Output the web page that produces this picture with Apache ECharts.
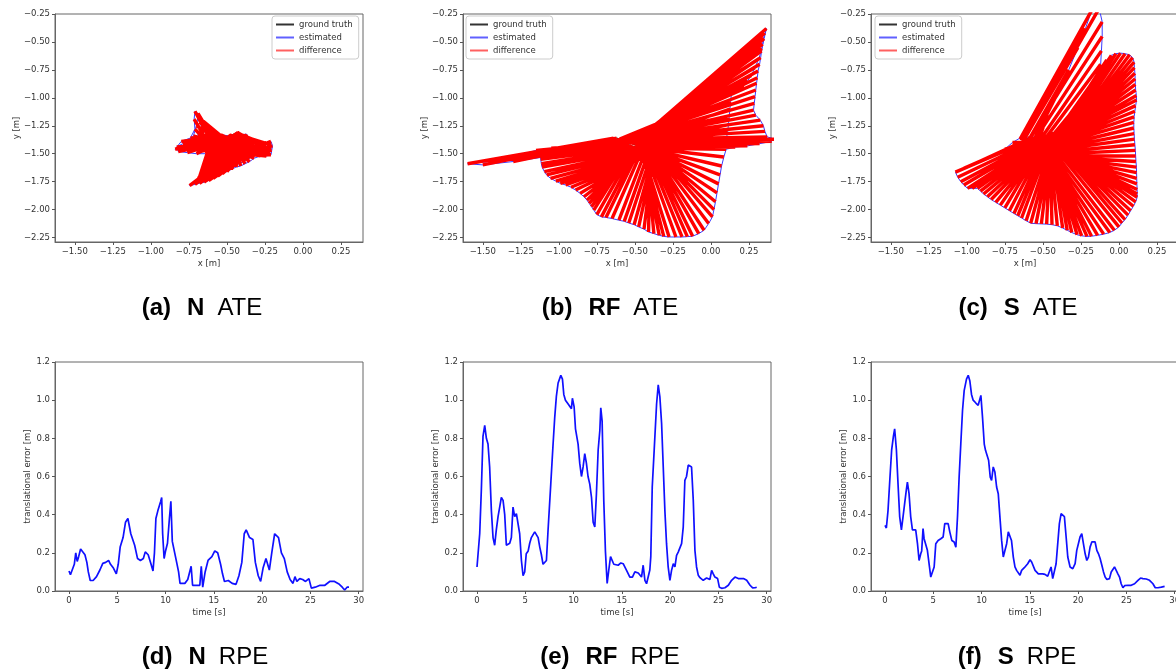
<!DOCTYPE html>
<html>
<head>
<meta charset="utf-8">
<title>ATE / RPE</title>
<script src="https://cdn.jsdelivr.net/npm/echarts@6/dist/echarts.min.js"></script>
<style>
  html, body { margin: 0; padding: 0; background: #fff; }
  #chart { width: 1176px; height: 670px; }
</style>
</head>
<body>
<div id="chart"></div>
<script>
// ground truth trajectory, same for the three ATE plots, [x, y] in m
const gtTraj = [
  [-0.50,-1.40],[-0.53,-1.39],[-0.56,-1.38],[-0.59,-1.37],[-0.62,-1.36],[-0.64,-1.36],[-0.65,-1.37],[-0.63,-1.39],[-0.60,-1.40],[-0.57,-1.41],[-0.54,-1.42],[-0.52,-1.43],
  [-0.50,-1.44],[-0.48,-1.45],[-0.46,-1.46],[-0.45,-1.47],[-0.44,-1.48],[-0.43,-1.49],[-0.42,-1.50],[-0.42,-1.51],[-0.43,-1.52],[-0.44,-1.53],
  [-0.46,-1.54],[-0.48,-1.54],[-0.50,-1.53],[-0.52,-1.52],[-0.53,-1.50],[-0.53,-1.48],[-0.52,-1.46],[-0.50,-1.45],[-0.48,-1.44],[-0.46,-1.43],
  [-0.44,-1.43],[-0.42,-1.44],[-0.40,-1.45],[-0.38,-1.46],[-0.37,-1.48],[-0.37,-1.50],[-0.38,-1.52],[-0.40,-1.53],[-0.42,-1.53],[-0.44,-1.52],
  [-0.45,-1.50],[-0.45,-1.48],[-0.44,-1.46],[-0.43,-1.44],[-0.42,-1.42],[-0.42,-1.40],[-0.43,-1.38],[-0.44,-1.36],[-0.45,-1.34],[-0.46,-1.33],
  [-0.47,-1.33],[-0.48,-1.35],[-0.49,-1.37],[-0.50,-1.39],[-0.50,-1.41],[-0.49,-1.43],[-0.48,-1.44],[-0.47,-1.45],[-0.46,-1.45],[-0.45,-1.44],
  [-0.44,-1.43],[-0.44,-1.41],[-0.45,-1.39],[-0.46,-1.37],[-0.455,-1.365],[-0.45,-1.36],[-0.44,-1.35],[-0.43,-1.34],[-0.42,-1.33],[-0.42,-1.32],
  [-0.43,-1.31],[-0.44,-1.31],[-0.45,-1.32],[-0.46,-1.33],[-0.47,-1.34],[-0.47,-1.35],[-0.46,-1.36],[-0.45,-1.36],[-0.44,-1.35],[-0.43,-1.34],
  [-0.43,-1.33],[-0.43,-1.32],[-0.44,-1.32],[-0.45,-1.33],[-0.47,-1.34],[-0.49,-1.35],[-0.52,-1.36],[-0.55,-1.36],[-0.58,-1.37],[-0.60,-1.37],
  [-0.60,-1.38],[-0.58,-1.38],[-0.56,-1.39],[-0.54,-1.40],[-0.52,-1.41],[-0.50,-1.42],[-0.48,-1.42],[-0.46,-1.41],[-0.44,-1.40],[-0.42,-1.39],
  [-0.40,-1.38],[-0.38,-1.38],[-0.36,-1.39],[-0.35,-1.41],[-0.35,-1.43],[-0.36,-1.45],[-0.38,-1.46],[-0.40,-1.47],[-0.42,-1.47],[-0.44,-1.46],
  [-0.46,-1.45],[-0.48,-1.44],[-0.50,-1.44],[-0.52,-1.45],[-0.54,-1.46],[-0.56,-1.47],[-0.58,-1.47],[-0.60,-1.46]
];

// estimated trajectory, method N
const estN = [
  [-0.55,-1.42],[-0.65,-1.45],[-0.76,-1.47],[-0.84,-1.46],[-0.80,-1.39],[-0.74,-1.36],[-0.71,-1.28],[-0.715,-1.19],[-0.71,-1.12],[-0.69,-1.14],[-0.675,-1.21],[-0.65,-1.27],
  [-0.61,-1.30],[-0.56,-1.32],[-0.51,-1.35],[-0.46,-1.345],[-0.41,-1.33],[-0.37,-1.325],[-0.355,-1.37],[-0.33,-1.43],[-0.30,-1.42],[-0.27,-1.41],
  [-0.24,-1.40],[-0.21,-1.39],[-0.20,-1.43],[-0.205,-1.47],[-0.21,-1.51],[-0.24,-1.52],[-0.28,-1.52],[-0.32,-1.54],[-0.35,-1.57],[-0.38,-1.59],
  [-0.41,-1.61],[-0.44,-1.62],[-0.47,-1.64],[-0.50,-1.66],[-0.53,-1.68],[-0.56,-1.70],[-0.59,-1.72],[-0.62,-1.74],[-0.65,-1.755],[-0.68,-1.765],
  [-0.71,-1.775],[-0.745,-1.785],[-0.72,-1.76],[-0.69,-1.72],[-0.66,-1.68],[-0.63,-1.64],[-0.60,-1.60],[-0.57,-1.56],[-0.55,-1.53],[-0.58,-1.50],
  [-0.64,-1.50],[-0.70,-1.50],[-0.76,-1.49],[-0.82,-1.48],[-0.83,-1.44],[-0.79,-1.41],[-0.75,-1.38],[-0.72,-1.34],[-0.70,-1.25],[-0.69,-1.17],
  [-0.68,-1.22],[-0.66,-1.27],[-0.62,-1.31],[-0.57,-1.34],[-0.52,-1.36],[-0.47,-1.35],[-0.42,-1.34],[-0.38,-1.34],[-0.36,-1.39],[-0.32,-1.44],
  [-0.28,-1.43],[-0.24,-1.42],[-0.21,-1.42],[-0.21,-1.46],[-0.22,-1.50],[-0.26,-1.51],[-0.30,-1.51],[-0.33,-1.52],[-0.36,-1.55],[-0.39,-1.57],
  [-0.42,-1.59],[-0.45,-1.60],[-0.48,-1.61],[-0.51,-1.63],[-0.54,-1.65],[-0.57,-1.67],[-0.60,-1.69],[-0.63,-1.71],[-0.66,-1.73],[-0.69,-1.75],
  [-0.66,-1.70],[-0.63,-1.66],[-0.60,-1.61],[-0.57,-1.56],[-0.56,-1.52],[-0.58,-1.49],[-0.62,-1.48],[-0.67,-1.48],[-0.72,-1.47],[-0.77,-1.45],
  [-0.78,-1.41],[-0.74,-1.37],[-0.69,-1.33],[-0.64,-1.30],[-0.59,-1.32],[-0.54,-1.33],[-0.49,-1.34],[-0.44,-1.35],[-0.40,-1.35],[-0.37,-1.36],
  [-0.34,-1.41],[-0.30,-1.45],[-0.26,-1.46],[-0.23,-1.45],[-0.22,-1.48],[-0.25,-1.50],[-0.30,-1.49],[-0.35,-1.48]
];

// estimated trajectory, method RF
const estRF = [
  [-0.58,-1.40],[-0.80,-1.46],[-1.05,-1.52],[-1.30,-1.57],[-1.50,-1.60],[-1.60,-1.59],[-1.45,-1.57],[-1.30,-1.53],[-1.15,-1.47],[-1.05,-1.45],[-1.08,-1.50],[-1.12,-1.54],
  [-1.12,-1.55],[-1.115,-1.59],[-1.11,-1.62],[-1.095,-1.66],[-1.08,-1.69],[-1.055,-1.72],[-1.02,-1.745],[-0.99,-1.765],[-0.955,-1.78],[-0.92,-1.80],
  [-0.89,-1.825],[-0.86,-1.855],[-0.835,-1.885],[-0.815,-1.915],[-0.80,-1.945],[-0.785,-1.975],[-0.77,-2.005],[-0.75,-2.045],[-0.72,-2.065],[-0.69,-2.07],
  [-0.65,-2.08],[-0.605,-2.095],[-0.57,-2.105],[-0.54,-2.12],[-0.505,-2.135],[-0.475,-2.155],[-0.44,-2.175],[-0.41,-2.20],[-0.375,-2.215],[-0.34,-2.23],
  [-0.31,-2.24],[-0.275,-2.245],[-0.23,-2.245],[-0.19,-2.245],[-0.155,-2.242],[-0.12,-2.238],[-0.08,-2.215],[-0.045,-2.185],[-0.015,-2.125],[0.01,-2.065],
  [0.02,-2.00],[0.03,-1.93],[0.04,-1.85],[0.05,-1.77],[0.06,-1.69],[0.07,-1.61],[0.085,-1.53],[0.10,-1.46],[0.16,-1.44],[0.24,-1.43],
  [0.32,-1.41],[0.40,-1.39],[0.43,-1.37],[0.37,-1.35],[0.355,-1.30],[0.345,-1.25],[0.325,-1.20],[0.295,-1.155],[0.28,-1.11],[0.285,-1.05],
  [0.29,-0.99],[0.295,-0.93],[0.30,-0.87],[0.305,-0.82],[0.31,-0.76],[0.32,-0.70],[0.327,-0.64],[0.333,-0.58],[0.34,-0.52],[0.345,-0.47],
  [0.355,-0.42],[0.365,-0.38],[0.35,-0.47],[0.335,-0.56],[0.315,-0.65],[0.29,-0.73],[0.265,-0.80],[0.24,-0.85],[0.215,-0.89],[0.195,-0.925],
  [0.17,-0.915],[0.145,-0.90],[0.135,-0.96],[0.13,-1.03],[0.125,-1.10],[0.12,-1.17],[0.115,-1.24],[0.11,-1.31],[0.10,-1.37],[0.06,-1.41],
  [0.01,-1.42],[-0.04,-1.43],[-0.09,-1.44],[-0.14,-1.45],[-0.19,-1.45],[-0.24,-1.46],[-0.28,-1.46],[-0.32,-1.46],[-0.35,-1.46],[-0.38,-1.46],
  [-0.41,-1.46],[-0.44,-1.45],[-0.47,-1.45],[-0.50,-1.45],[-0.53,-1.46],[-0.55,-1.47],[-0.57,-1.47],[-0.59,-1.46]
];

// estimated trajectory, method S
const estS = [
  [-0.55,-1.38],[-0.47,-1.15],[-0.40,-0.95],[-0.33,-0.75],[-0.27,-0.55],[-0.22,-0.38],[-0.18,-0.22],[-0.13,-0.20],[-0.11,-0.32],[-0.11,-0.45],[-0.115,-0.58],[-0.12,-0.70],
  [-0.11,-0.80],[-0.10,-0.72],[-0.08,-0.66],[-0.05,-0.62],[-0.02,-0.605],[0.01,-0.60],[0.04,-0.605],[0.07,-0.615],[0.09,-0.64],[0.10,-0.68],
  [0.102,-0.73],[0.105,-0.78],[0.107,-0.83],[0.108,-0.88],[0.11,-0.93],[0.115,-0.98],[0.116,-1.02],[0.11,-1.07],[0.105,-1.12],[0.10,-1.17],
  [0.098,-1.22],[0.098,-1.27],[0.10,-1.32],[0.102,-1.37],[0.105,-1.42],[0.108,-1.47],[0.11,-1.52],[0.112,-1.57],[0.115,-1.62],[0.116,-1.67],
  [0.117,-1.72],[0.118,-1.77],[0.12,-1.82],[0.12,-1.86],[0.12,-1.89],[0.11,-1.93],[0.095,-1.97],[0.077,-2.01],[0.06,-2.05],[0.04,-2.09],
  [0.02,-2.12],[0.00,-2.155],[-0.03,-2.185],[-0.06,-2.205],[-0.10,-2.22],[-0.14,-2.23],[-0.18,-2.238],[-0.21,-2.24],[-0.245,-2.235],[-0.275,-2.225],
  [-0.31,-2.205],[-0.34,-2.185],[-0.37,-2.165],[-0.405,-2.145],[-0.44,-2.135],[-0.475,-2.13],[-0.51,-2.128],[-0.545,-2.126],[-0.58,-2.122],[-0.61,-2.10],
  [-0.64,-2.075],[-0.665,-2.055],[-0.69,-2.035],[-0.72,-2.01],[-0.75,-1.985],[-0.78,-1.96],[-0.81,-1.935],[-0.84,-1.91],[-0.865,-1.885],[-0.89,-1.86],
  [-0.91,-1.835],[-0.93,-1.81],[-0.965,-1.81],[-0.995,-1.81],[-1.02,-1.78],[-1.04,-1.75],[-1.06,-1.71],[-1.075,-1.665],[-1.02,-1.63],[-0.95,-1.59],
  [-0.88,-1.55],[-0.81,-1.51],[-0.75,-1.46],[-0.70,-1.40],[-0.65,-1.36],[-0.60,-1.355],[-0.56,-1.35],[-0.52,-1.36],[-0.48,-1.38],[-0.44,-1.40],
  [-0.40,-1.42],[-0.37,-1.43],[-0.35,-1.45],[-0.34,-1.47],[-0.35,-1.49],[-0.37,-1.50],[-0.39,-1.51],[-0.41,-1.51],[-0.43,-1.50],[-0.45,-1.49],
  [-0.47,-1.48],[-0.49,-1.47],[-0.51,-1.47],[-0.53,-1.48],[-0.55,-1.49],[-0.57,-1.50],[-0.59,-1.50],[-0.61,-1.49]
];

// relative pose error, [time s, translational error m]
const rpeN = [
  [0,0.105],[0.15,0.085],[0.35,0.095],[0.55,0.14],[0.7,0.2],[0.85,0.155],[1.0,0.18],[1.2,0.22],[1.4,0.225],[1.65,0.19],[1.85,0.15],[2.0,0.1],
  [2.2,0.055],[2.5,0.055],[2.85,0.075],[3.2,0.11],[3.5,0.145],[3.8,0.15],[4.1,0.16],[4.3,0.14],[4.6,0.12],[4.9,0.09],[5.1,0.14],[5.3,0.23],
  [5.6,0.28],[5.85,0.36],[6.1,0.38],[6.4,0.3],[6.8,0.24],[7.1,0.17],[7.4,0.16],[7.7,0.17],[7.9,0.205],[8.2,0.19],[8.5,0.14],[8.7,0.105],
  [8.85,0.2],[9.0,0.38],[9.2,0.42],[9.35,0.41],[9.5,0.47],[9.6,0.49],[9.7,0.3],[9.85,0.17],[10.0,0.21],[10.2,0.25],[10.4,0.38],[10.55,0.47],
  [10.7,0.26],[10.9,0.25],[11.15,0.15],[11.35,0.1],[11.5,0.04],[11.7,0.03],[12.0,0.04],[12.3,0.06],[12.5,0.065],[12.65,0.13],[12.8,0.03],[13.2,0.03],
  [13.55,0.03],[13.7,0.13],[13.85,0.02],[14.1,0.1],[14.4,0.16],[14.8,0.18],[15.1,0.21],[15.4,0.2],[15.7,0.14],[15.9,0.09],[16.1,0.05],[16.5,0.055],
  [16.9,0.04],[17.3,0.035],[17.6,0.08],[17.9,0.15],[18.15,0.3],[18.35,0.32],[18.7,0.28],[19.05,0.27],[19.3,0.15],[19.6,0.08],[19.85,0.05],[20.1,0.12],
  [20.4,0.17],[20.75,0.11],[21.0,0.2],[21.3,0.3],[21.7,0.28],[22.0,0.2],[22.3,0.17],[22.6,0.1],[22.9,0.06],[23.2,0.04],[23.4,0.075],[23.6,0.05],
  [23.9,0.065],[24.2,0.06],[24.5,0.05],[24.85,0.065],[25.1,0.015],[25.5,0.02],[26.0,0.03],[26.5,0.03],[27.0,0.05],[27.5,0.05],[28.0,0.035],[28.3,0.02],
  [28.55,0.005],[28.8,0.02],[29.0,0.02]
];
const rpeRF = [
  [0,0.126],[0.28,0.30],[0.45,0.53],[0.62,0.81],[0.8,0.868],[0.97,0.80],[1.14,0.77],[1.31,0.65],[1.49,0.42],[1.66,0.28],[1.83,0.24],[2.0,0.32],
  [2.18,0.39],[2.35,0.44],[2.52,0.49],[2.7,0.475],[2.87,0.40],[3.04,0.24],[3.21,0.23],[3.39,0.25],[3.56,0.28],[3.73,0.44],[3.9,0.39],[4.08,0.405],
  [4.25,0.41],[4.42,0.30],[4.6,0.16],[4.77,0.08],[4.94,0.10],[5.1,0.195],[5.3,0.21],[5.46,0.25],[5.63,0.28],[5.8,0.27],[5.98,0.31],[6.15,0.32],
  [6.33,0.28],[6.5,0.23],[6.67,0.19],[6.84,0.14],[7.02,0.13],[7.19,0.16],[7.36,0.32],[7.64,0.56],[7.88,0.77],[8.05,0.91],[8.22,1.02],[8.4,1.09],
  [8.68,1.13],[8.85,1.11],[8.99,1.03],[9.16,1.0],[9.44,0.98],[9.61,0.975],[9.78,0.955],[9.88,1.01],[10.06,0.965],[10.2,0.85],[10.33,0.84],[10.47,0.77],
  [10.64,0.67],[10.82,0.60],[10.99,0.65],[11.16,0.72],[11.33,0.67],[11.5,0.60],[11.68,0.56],[11.86,0.49],[12.03,0.36],[12.2,0.335],[12.37,0.51],[12.55,0.74],
  [12.72,0.84],[12.82,0.96],[12.96,0.89],[13.13,0.475],[13.3,0.21],[13.48,0.04],[13.65,0.11],[13.83,0.18],[14.0,0.18],[14.17,0.14],[14.34,0.147],[14.62,0.135],
  [14.9,0.147],[15.14,0.143],[15.49,0.108],[15.83,0.073],[16.1,0.073],[16.35,0.10],[16.7,0.094],[17.04,0.073],[17.21,0.135],[17.39,0.056],[17.56,0.038],[17.9,0.11],
  [18.0,0.18],[18.15,0.545],[18.35,0.737],[18.6,0.98],[18.77,1.08],[18.94,1.017],[19.12,0.877],[19.29,0.65],[19.46,0.42],[19.63,0.248],[19.8,0.126],[19.98,0.056],
  [20.15,0.108],[20.33,0.143],[20.5,0.126],[20.67,0.187],[20.84,0.204],[21.02,0.213],[21.19,0.248],[21.36,0.335],[21.53,0.58],[21.7,0.60],[21.88,0.66],[22.05,0.65],
  [22.22,0.65],[22.4,0.475],[22.57,0.213],[22.74,0.126],[22.92,0.082],[23.09,0.07],[23.43,0.056],[23.78,0.068],[24.12,0.06],[24.3,0.108],[24.47,0.09],[24.64,0.073],
  [24.92,0.065],[25.1,0.02],[25.34,0.014],[25.68,0.017],[26.03,0.03],[26.37,0.056],[26.72,0.073],[26.9,0.082],[27.06,0.065],[27.6,0.065],[27.93,0.056],[28.28,0.03],
  [28.55,0.016],[28.8,0.017],[28.97,0.02]
];
const rpeS = [
  [0,0.344],[0.14,0.33],[0.31,0.42],[0.52,0.60],[0.69,0.74],[0.87,0.81],[1.0,0.85],[1.18,0.74],[1.35,0.56],[1.52,0.39],[1.7,0.32],[1.87,0.39],
  [2.04,0.46],[2.21,0.53],[2.32,0.57],[2.49,0.51],[2.66,0.39],[2.84,0.32],[3.0,0.31],[3.18,0.32],[3.36,0.25],[3.53,0.16],[3.7,0.195],[3.8,0.21],
  [3.94,0.327],[4.05,0.274],[4.22,0.265],[4.39,0.213],[4.57,0.204],[4.74,0.073],[4.91,0.065],[5.09,0.126],[5.26,0.248],[5.5,0.265],[5.78,0.274],[6.02,0.283],
  [6.19,0.353],[6.37,0.344],[6.54,0.353],[6.71,0.31],[6.92,0.265],[7.16,0.257],[7.34,0.23],[7.51,0.39],[7.68,0.60],[7.85,0.77],[8.03,0.947],[8.2,1.05],
  [8.44,1.11],[8.62,1.13],[8.79,1.10],[8.96,1.03],[9.13,1.0],[9.41,0.985],[9.65,0.973],[9.83,0.98],[9.93,1.025],[10.1,0.91],[10.28,0.77],[10.41,0.737],
  [10.55,0.746],[10.73,0.685],[10.9,0.597],[11.04,0.58],[11.21,0.65],[11.38,0.624],[11.56,0.545],[11.73,0.51],[11.9,0.39],[12.08,0.265],[12.25,0.178],[12.42,0.178],
  [12.6,0.248],[12.77,0.31],[12.94,0.32],[13.1,0.265],[13.29,0.178],[13.46,0.126],[13.63,0.108],[13.8,0.10],[13.98,0.082],[14.15,0.108],[14.43,0.122],[14.78,0.143],
  [15.02,0.164],[15.19,0.152],[15.36,0.143],[15.54,0.108],[15.71,0.10],[15.88,0.09],[16.06,0.10],[16.33,0.09],[16.57,0.087],[16.85,0.077],[17.02,0.073],[17.2,0.126],
  [17.37,0.065],[17.54,0.073],[17.72,0.143],[17.89,0.248],[18.06,0.353],[18.24,0.405],[18.41,0.397],[18.58,0.39],[18.76,0.283],[18.93,0.178],[19.17,0.126],[19.45,0.117],
  [19.69,0.143],[19.86,0.213],[20.03,0.248],[20.2,0.283],[20.38,0.30],[20.55,0.248],[20.73,0.195],[20.9,0.16],[21.07,0.178],[21.24,0.23],[21.42,0.257],[21.59,0.265],
  [21.76,0.257],[21.94,0.213],[22.11,0.195],[22.28,0.17],[22.46,0.135],[22.63,0.10],[22.8,0.073],[22.98,0.06],[23.25,0.065],[23.43,0.10],[23.6,0.108],[23.77,0.126],
  [23.94,0.117],[24.12,0.09],[24.29,0.073],[24.46,0.038],[24.64,0.017],[24.81,0.028],[25.16,0.03],[25.5,0.03],[25.85,0.038],[26.2,0.056],[26.47,0.068],[26.71,0.065],
  [27.06,0.063],[27.4,0.056],[27.75,0.038],[27.99,0.017],[28.27,0.017],[28.62,0.02],[28.96,0.024]
];

// tick values
const xTicksM = [-1.5, -1.25, -1, -0.75, -0.5, -0.25, 0, 0.25];
const yTicksM = [-2.25, -2, -1.75, -1.5, -1.25, -1, -0.75, -0.5, -0.25];
const timeTicks = [0, 5, 10, 15, 20, 25, 30];
const errTicks = [0, 0.2, 0.4, 0.6, 0.8, 1.0, 1.2];

const legendNames = ['ground truth', 'estimated', 'difference'];

// sub-figure captions: label, method, metric
const captions = [
  ['(a)', 'N', 'ATE'], ['(b)', 'RF', 'ATE'], ['(c)', 'S', 'ATE'],
  ['(d)', 'N', 'RPE'], ['(e)', 'RF', 'RPE'], ['(f)', 'S', 'RPE'],
];

const FONT = 'DejaVu Sans';
const TXT = '#333';
const colLeft = [55, 463, 871];
const capX = [197, 605, 1013, 200, 605, 1012];

const fmt2 = (v) => (v < 0 ? '\u2212' : '') + Math.abs(v).toFixed(2);

function axis(gridIndex, opt) {
  return {
    type: 'value',
    gridIndex,
    min: opt.min,
    max: opt.max,
    name: opt.name,
    nameLocation: 'middle',
    nameGap: opt.nameGap,
    nameRotate: opt.rotate || 0,
    nameMoveOverlap: false,
    nameTextStyle: { fontFamily: FONT, fontSize: 8.5, color: TXT },
    axisLine: { show: true, onZero: false, lineStyle: { color: '#666', width: 1 } },
    axisTick: { show: true, length: 3, customValues: opt.ticks, lineStyle: { color: '#555' } },
    axisLabel: {
      customValues: opt.ticks,
      formatter: opt.fmt,
      margin: 5,
      fontFamily: FONT,
      fontSize: 8.5,
      color: TXT,
      hideOverlap: false,
    },
    splitLine: { show: false },
  };
}

const grid = [];
const xAxis = [];
const yAxis = [];
const series = [];

colLeft.forEach((left, i) => {
  grid.push({ left, top: 14, width: 308, height: 228, show: true, borderColor: '#666', borderWidth: 1, outerBoundsMode: 'none' });
  xAxis.push(axis(i, { min: -1.63, max: 0.395, name: 'x [m]', nameGap: 17, ticks: xTicksM, fmt: fmt2 }));
  yAxis.push(axis(i, { min: -2.29, max: -0.25, name: 'y [m]', nameGap: 34, rotate: 90, ticks: yTicksM, fmt: fmt2 }));
});
colLeft.forEach((left, i) => {
  grid.push({ left, top: 362, width: 308, height: 229, show: true, borderColor: '#666', borderWidth: 1, outerBoundsMode: 'none' });
  xAxis.push(axis(i + 3, { min: -1.45, max: 30.45, name: 'time [s]', nameGap: 17, ticks: timeTicks, fmt: (v) => String(v) }));
  yAxis.push(axis(i + 3, { min: 0, max: 1.2, name: 'translational error [m]', nameGap: 23, rotate: 90, ticks: errTicks, fmt: (v) => v.toFixed(1) }));
});

[estN, estRF, estS].forEach((est, i) => {
  // one segment per timestamp from ground truth to estimate, broken by empty points
  const diff = [];
  gtTraj.forEach((g, k) => { diff.push(g, est[k], ['-', '-']); });
  const base = { type: 'line', xAxisIndex: i, yAxisIndex: i, showSymbol: false, symbol: 'none', silent: true, clip: true };
  series.push(
    Object.assign({}, base, { name: 'ground truth', data: gtTraj, color: '#000', lineStyle: { width: 1, color: '#000' }, z: 1 }),
    Object.assign({}, base, { name: 'estimated', data: est, color: '#0000ff', lineStyle: { width: 1, color: '#3a3aff' }, z: 2 }),
    Object.assign({}, base, { name: 'difference', data: diff, color: '#ff0000', lineStyle: { width: 3.4, color: '#ff0000', cap: 'butt' }, z: 3 })
  );
});

[rpeN, rpeRF, rpeS].forEach((rpe, i) => {
  series.push({
    name: 'rpe', type: 'line', xAxisIndex: i + 3, yAxisIndex: i + 3, data: rpe,
    showSymbol: false, symbol: 'none', silent: true,
    lineStyle: { width: 1.7, color: '#1010ff' }, color: '#0000ff',
  });
});

const legend = [272, 466, 875].map((left) => ({
  left, top: 16, orient: 'vertical', selectedMode: false,
  itemWidth: 18, itemHeight: 2, itemGap: 4,
  padding: [4, 6, 4, 4],
  borderColor: '#cccccc', borderWidth: 1, borderRadius: 3,
  backgroundColor: 'rgba(255,255,255,0.8)',
  textStyle: { fontFamily: FONT, fontSize: 8.5, color: TXT },
  data: [
    { name: legendNames[0], icon: 'rect', itemStyle: { color: '#333' } },
    { name: legendNames[1], icon: 'rect', itemStyle: { color: '#6060ff' } },
    { name: legendNames[2], icon: 'rect', itemStyle: { color: '#ff6060' } },
  ],
}));

const title = captions.map((c, i) => ({
  text: `{b|${c[0]}}{m|${c[1]}}{r|${c[2]}}`,
  left: capX[i],
  top: i < 3 ? 291 : 640,
  textAlign: 'center',
  textStyle: {
    fontFamily: 'Liberation Sans', fontSize: 24, color: '#000', fontWeight: 'normal',
    rich: {
      b: { fontFamily: 'Liberation Sans', fontSize: 24, fontWeight: 'bold', color: '#000' },
      m: { fontFamily: 'Liberation Sans', fontSize: 24, fontWeight: 'bold', color: '#000', padding: [0, 0, 0, 16] },
      r: { fontFamily: 'Liberation Sans', fontSize: 24, fontWeight: 'normal', color: '#000', padding: [0, 0, 0, 13] },
    },
  },
}));

const option = {
  animation: false,
  backgroundColor: '#fff',
  title,
  legend,
  grid,
  xAxis,
  yAxis,
  series,
};

const chart = echarts.init(document.getElementById('chart'));
chart.setOption(option);
window.addEventListener('resize', () => { chart.resize(); });
</script>
</body>
</html>
